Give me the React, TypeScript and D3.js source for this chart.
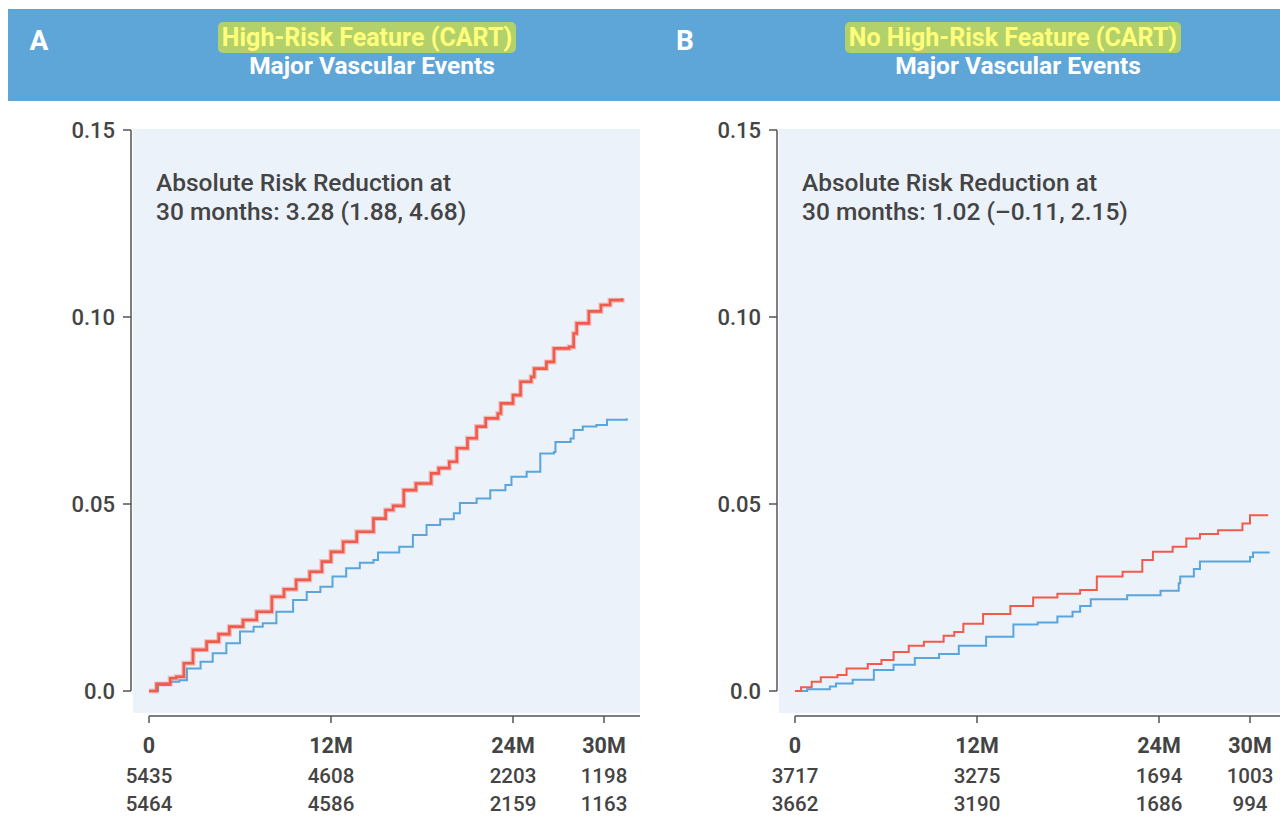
import React from 'react';
import * as d3 from 'd3';

// month ticks and numbers at risk
const tickMonths = [0, 12, 24, 30];
const tickLabels = ['0', '12M', '24M', '30M'];
const riskTicks = [0, 0.05, 0.1, 0.15];
const riskTickLabels = ['0.0', '0.05', '0.10', '0.15'];

const atRiskA1 = [5435, 4608, 2203, 1198];
const atRiskA2 = [5464, 4586, 2159, 1163];
const atRiskB1 = [3717, 3275, 1694, 1003];
const atRiskB2 = [3662, 3190, 1686, 994];

// cumulative incidence, [month, value]
const redA: [number, number][] = [
  [0, 0], [0.5, 0.0019], [1.4, 0.0034], [1.8, 0.0038], [2.3, 0.0074], [2.9, 0.011],
  [3.8, 0.0132], [4.6, 0.0152], [5.3, 0.0172], [6.2, 0.019], [7.1, 0.0212], [8.1, 0.0252],
  [8.9, 0.0272], [9.7, 0.0297], [10.6, 0.0319], [11.4, 0.0346], [12.0, 0.0372], [12.8, 0.0399],
  [13.7, 0.0426], [14.8, 0.0461], [15.6, 0.0484], [16.1, 0.0495], [16.8, 0.0537], [17.6, 0.0555],
  [18.6, 0.0582], [19.1, 0.0596], [19.8, 0.0613], [20.3, 0.0649], [21.0, 0.0676], [21.6, 0.0707],
  [22.2, 0.0729], [23.0, 0.0742], [23.2, 0.0769], [24.0, 0.0791], [24.5, 0.0827], [25.2, 0.084],
  [25.4, 0.0862], [26.2, 0.088], [26.7, 0.0916], [27.7, 0.092], [28.0, 0.0956], [28.2, 0.0983],
  [29.0, 0.1015], [29.8, 0.1032], [30.4, 0.1045], [31.2, 0.105],
];

const blueA: [number, number][] = [
  [0, 0], [0.6, 0.0016], [1.4, 0.0025], [2.0, 0.0029], [2.5, 0.006], [3.4, 0.0078],
  [4.2, 0.0101], [5.1, 0.0128], [6.0, 0.0159], [6.9, 0.0172], [7.5, 0.0181], [8.4, 0.0212],
  [9.5, 0.0243], [10.4, 0.0265], [11.3, 0.0279], [12.1, 0.0306], [13.0, 0.0328], [13.9, 0.0343],
  [14.8, 0.035], [15.1, 0.037], [16.5, 0.0386], [17.4, 0.0417], [18.3, 0.0444], [19.2, 0.0459],
  [20.1, 0.0475], [20.5, 0.0503], [21.6, 0.0515], [22.5, 0.0537], [23.5, 0.0551], [23.9, 0.0573],
  [24.9, 0.0586], [25.8, 0.0635], [26.7, 0.0639], [26.8, 0.0666], [27.8, 0.0675], [28.0, 0.0698],
  [28.6, 0.0707], [29.5, 0.0711], [30.2, 0.0725], [31.5, 0.0729],
];

const redB: [number, number][] = [
  [0, 0], [0.4, 0.001], [1.1, 0.0025], [1.7, 0.0037], [2.8, 0.0043], [3.4, 0.006],
  [4.8, 0.0072], [5.7, 0.0083], [6.5, 0.0104], [7.5, 0.0121], [8.5, 0.0132], [9.8, 0.0148],
  [10.5, 0.0158], [11.1, 0.018], [12.4, 0.0206], [14.2, 0.0227], [15.7, 0.025], [17.3, 0.026],
  [18.8, 0.027], [19.9, 0.0306], [21.6, 0.0319], [22.9, 0.035], [23.6, 0.0372], [24.9, 0.0386],
  [25.8, 0.0408], [26.7, 0.042], [27.9, 0.043], [29.5, 0.0448], [30.0, 0.047], [31.2, 0.047],
];

const blueB: [number, number][] = [
  [0, 0], [0.8, 0.0005], [2.3, 0.0012], [2.7, 0.002], [3.8, 0.003], [5.2, 0.0056],
  [6.5, 0.007], [7.9, 0.0088], [9.5, 0.0099], [10.8, 0.0121], [12.6, 0.0145], [14.4, 0.0178],
  [16.0, 0.0183], [17.3, 0.0199], [18.3, 0.0212], [18.8, 0.0227], [19.5, 0.0245], [21.9, 0.0256],
  [24.1, 0.0268], [25.3, 0.0288], [25.4, 0.0306], [26.3, 0.0326], [26.7, 0.0346], [30.0, 0.0358],
  [30.2, 0.037], [31.3, 0.037],
];

const FONT = "Roboto, 'Noto Sans', sans-serif";
const TEXT = '#444';
const RED = '#f05b4b';
const BLUE = '#5aa5dc';

interface PanelProps {
  letter: string;
  title: string;
  hlWidth: number;
  arr: string;
  red: [number, number][];
  blue: [number, number][];
  row1: number[];
  row2: number[];
  dx: number;      // horizontal offset of the panel
  right: number;   // right end of plot area
  thickRed?: boolean;
}

const Panel: React.FC<PanelProps> = ({ letter, title, hlWidth, arr, red, blue, row1, row2, dx, right, thickRed }) => {
  const x = d3.scaleLinear().domain([0, 30]).range([149 + dx, 604 + dx]);
  const y = d3.scaleLinear().domain([0, 0.15]).range([691, 130]);
  const line = d3.line<[number, number]>()
    .x(d => x(d[0]))
    .y(d => y(d[1]))
    .curve(d3.curveStepAfter);

  const axisX = 131 + dx;
  const titleX = 367 + dx;

  return (
    <g fontFamily={FONT}>
      {/* header text */}
      <text x={39 + dx} y={50} fill="#fff" fontSize={28} fontWeight={700} textAnchor="middle">{letter}</text>
      <rect x={titleX - hlWidth / 2} y={22} width={hlWidth} height={31} rx={5} fill="#b3d16b" />
      <text x={titleX} y={46} fill="#ffff7c" fontSize={25} fontWeight={700} textAnchor="middle">{title}</text>
      <text x={titleX + 5} y={74} fill="#fff" fontSize={24.5} fontWeight={700} textAnchor="middle">Major Vascular Events</text>

      {/* plot background */}
      <rect x={axisX + 2} y={129} width={right - axisX - 2} height={584} fill="#ebf2fa" />

      {/* y axis */}
      <line x1={axisX} x2={axisX} y1={y(0.15)} y2={y(0)} stroke="#555" strokeWidth={1.5} />
      {riskTicks.map((t, i) => (
        <g key={t}>
          <line x1={axisX - 8} x2={axisX} y1={y(t)} y2={y(t)} stroke="#555" strokeWidth={1.5} />
          <text x={axisX - 16} y={y(t)} dy="0.35em" textAnchor="end" fontSize={22} fontWeight={500} fill={TEXT}>{riskTickLabels[i]}</text>
        </g>
      ))}

      {/* x axis */}
      <line x1={x(0)} x2={right} y1={716} y2={716} stroke="#555" strokeWidth={1.5} />
      {tickMonths.map((m, i) => (
        <g key={m}>
          <line x1={x(m)} x2={x(m)} y1={716} y2={723} stroke="#555" strokeWidth={1.5} />
          <text x={x(m)} y={753} textAnchor="middle" fontSize={21.5} fontWeight={700} fill={TEXT}>{tickLabels[i]}</text>
          <text x={x(m)} y={783} textAnchor="middle" fontSize={20.5} fontWeight={500} fill={TEXT}>{row1[i]}</text>
          <text x={x(m)} y={811} textAnchor="middle" fontSize={20.5} fontWeight={500} fill={TEXT}>{row2[i]}</text>
        </g>
      ))}

      {/* annotation */}
      <text x={156 + dx} y={191} fontSize={24.5} fontWeight={500} fill={TEXT}>Absolute Risk Reduction at</text>
      <text x={156 + dx} y={220} fontSize={24.5} fontWeight={500} fill={TEXT}>{arr}</text>

      {/* curves */}
      <path d={line(blue) || ''} fill="none" stroke={BLUE} strokeWidth={2} />
      {thickRed && <path d={line(red) || ''} fill="none" stroke={RED} strokeOpacity={0.35} strokeWidth={5} />}
      <path d={line(red) || ''} fill="none" stroke={RED} strokeWidth={thickRed ? 2.6 : 2} />
    </g>
  );
};

export default function App() {
  return (
    <svg width={1280} height={817} style={{ position: 'absolute', left: 0, top: 0, background: '#fff' }}>
      <rect x={8} y={9} width={1272} height={92} fill="#5fa6d8" />
      <Panel letter="A" title="High-Risk Feature (CART)" hlWidth={298} arr="30 months: 3.28 (1.88, 4.68)"
        red={redA} blue={blueA} row1={atRiskA1} row2={atRiskA2} dx={0} right={640} thickRed />
      <Panel letter="B" title="No High-Risk Feature (CART)" hlWidth={336} arr="30 months: 1.02 (–0.11, 2.15)"
        red={redB} blue={blueB} row1={atRiskB1} row2={atRiskB2} dx={646} right={1280} />
    </svg>
  );
}
